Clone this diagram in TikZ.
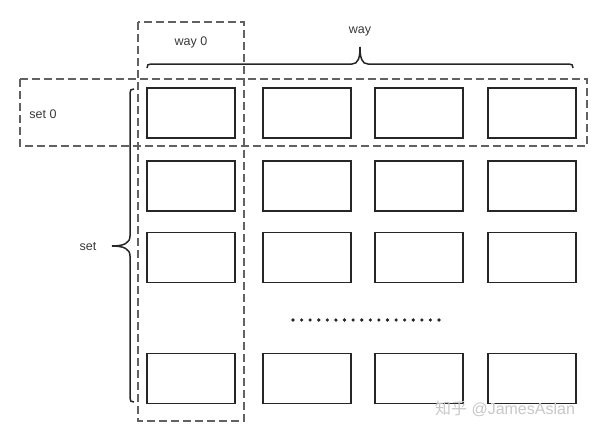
\documentclass[tikz,border=0pt]{standalone}
\usepackage{fontspec}
\setmainfont{Liberation Sans}
\newfontfamily\cjk{Noto Sans CJK SC}
\begin{document}
\begin{tikzpicture}[x=1pt,y=-1pt,
  cell/.style={draw=black!85, line width=1.8pt, minimum width=88pt, minimum height=50pt, inner sep=0pt},
  dashbox/.style={draw=black!62, line width=1.2pt, dash pattern=on 8pt off 4pt},
  bracepath/.style={draw=black!85, line width=1.5pt},
  lbl/.style={text=black!78, font=\fontsize{12.5}{14}\selectfont, inner sep=0pt},
  dotmark/.style={fill=black!85}]
\useasboundingbox (0,0) rectangle (600,434);
% cells
\foreach \c/\x in {1/191,2/307,3/419,4/532}{
  \foreach \r/\y in {1/113,2/186,3/257.5,4/378.5}{
    \node[cell] (c\r\c) at (\x,\y) {};
  }
}
% dashed groups
\draw[dashbox] (20,79) rectangle (587,146);
\draw[dashbox] (138,22) rectangle (244,421);
% braces
\draw[bracepath] (147,68) .. controls (147,65) and (148,64) .. (151,64) -- (352,64)
  .. controls (358,64) and (360,58) .. (360,47)
  .. controls (360,58) and (362,64) .. (368,64) -- (569,64)
  .. controls (572,64) and (573,65) .. (573,68);
\draw[bracepath] (134,89) .. controls (131,89) and (130,90) .. (130,93) -- (130,236)
  .. controls (130,243) and (124,246) .. (112,246)
  .. controls (124,246) and (130,249) .. (130,256) -- (130,398)
  .. controls (130,401) and (131,402) .. (134,402);
% labels
\node[lbl] (way) at (360,31) {way};
\node[lbl] (way0) at (191,42) {way 0};
\node[lbl] (set0) at (43,114) {set 0};
\node[lbl] (set) at (88,247) {set};
% dots
\foreach \i in {0,...,17}{
  \fill[dotmark] (293+\i*8.59,320) circle (1.8pt);
}
% watermark
\node[text=black!22, font=\fontsize{16}{18}\selectfont, inner sep=0pt] (wm) at (505,409) {{\cjk 知乎} @JamesAslan};
\end{tikzpicture}
\end{document}
